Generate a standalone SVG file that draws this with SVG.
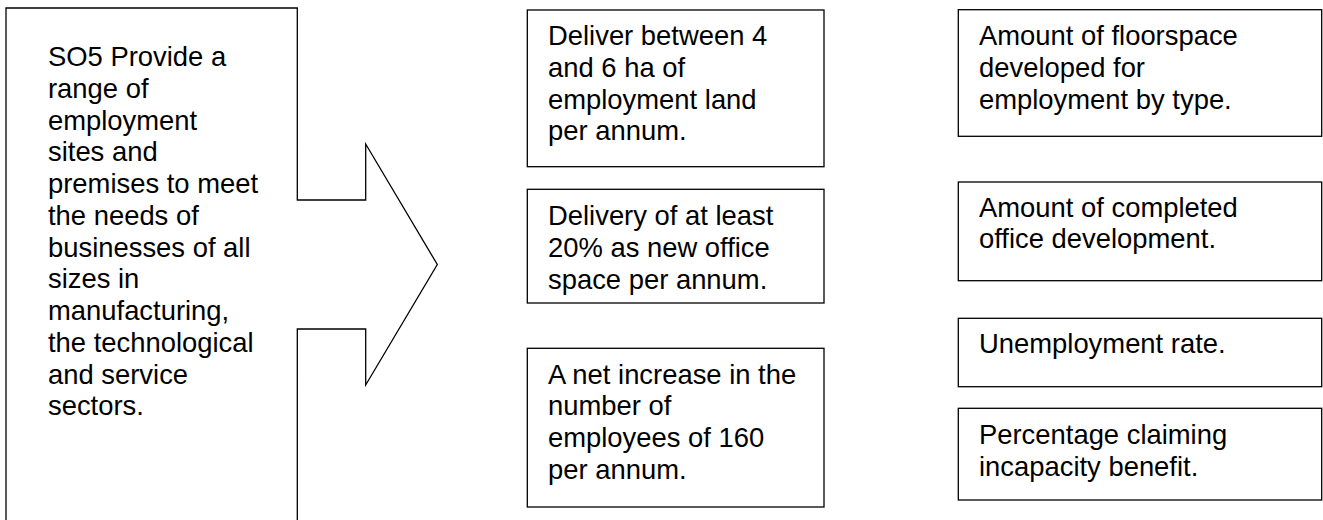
<svg xmlns="http://www.w3.org/2000/svg" width="1323" height="520" viewBox="0 0 1323 520">
  <style>
    .shape { fill: #ffffff; stroke: #000000; stroke-width: 1.3; }
    .label { font-family: "Liberation Sans", Arial, sans-serif; font-size: 27.4px; fill: #000000; }
  </style>
  <rect width="1323" height="520" fill="#ffffff"/>

  <!-- Objective box with the block arrow built into its right side -->
  <g id="objective">
    <path class="shape" d="M6,530 L6,8 L297.3,8 L297.3,200 L365.7,200 L365.7,144 L437.3,264.5 L365.7,385 L365.7,329 L297.3,329 L297.3,530"/>
    <text class="label">
      <tspan x="48" y="66">SO5 Provide a</tspan>
      <tspan x="48" y="97.8">range of</tspan>
      <tspan x="48" y="129.5">employment</tspan>
      <tspan x="48" y="161.3">sites and</tspan>
      <tspan x="48" y="193">premises to meet</tspan>
      <tspan x="48" y="224.8">the needs of</tspan>
      <tspan x="48" y="256.5">businesses of all</tspan>
      <tspan x="48" y="288.3">sizes in</tspan>
      <tspan x="48" y="320">manufacturing,</tspan>
      <tspan x="48" y="351.8">the technological</tspan>
      <tspan x="48" y="383.5">and service</tspan>
      <tspan x="48" y="415.3">sectors.</tspan>
    </text>
  </g>

  <!-- Targets -->
  <g id="target-land">
    <rect class="shape" x="527.3" y="10" width="296.7" height="156.7"/>
    <text class="label">
      <tspan x="548" y="45">Deliver between 4</tspan>
      <tspan x="548" y="76.8">and 6 ha of</tspan>
      <tspan x="548" y="108.5">employment land</tspan>
      <tspan x="548" y="140.3">per annum.</tspan>
    </text>
  </g>

  <g id="target-office">
    <rect class="shape" x="527.3" y="189.3" width="296.7" height="113.7"/>
    <text class="label">
      <tspan x="548" y="225">Delivery of at least</tspan>
      <tspan x="548" y="256.8">20% as new office</tspan>
      <tspan x="548" y="288.5">space per annum.</tspan>
    </text>
  </g>

  <g id="target-employees">
    <rect class="shape" x="527.3" y="348.3" width="296.7" height="158.7"/>
    <text class="label">
      <tspan x="548" y="383.5">A net increase in the</tspan>
      <tspan x="548" y="415.3">number of</tspan>
      <tspan x="548" y="447">employees of 160</tspan>
      <tspan x="548" y="478.8">per annum.</tspan>
    </text>
  </g>

  <!-- Indicators -->
  <g id="indicator-floorspace">
    <rect class="shape" x="958.3" y="9.7" width="363.4" height="126.6"/>
    <text class="label">
      <tspan x="979" y="45">Amount of floorspace</tspan>
      <tspan x="979" y="76.8">developed for</tspan>
      <tspan x="979" y="108.5">employment by type.</tspan>
    </text>
  </g>

  <g id="indicator-office">
    <rect class="shape" x="958.3" y="182" width="363.4" height="98.7"/>
    <text class="label">
      <tspan x="979" y="216.5">Amount of completed</tspan>
      <tspan x="979" y="248.3">office development.</tspan>
    </text>
  </g>

  <g id="indicator-unemployment">
    <rect class="shape" x="958.3" y="318.3" width="363.4" height="68.4"/>
    <text class="label">
      <tspan x="979" y="353">Unemployment rate.</tspan>
    </text>
  </g>

  <g id="indicator-incapacity">
    <rect class="shape" x="958.3" y="408.3" width="363.4" height="91.7"/>
    <text class="label">
      <tspan x="979" y="444">Percentage claiming</tspan>
      <tspan x="979" y="475.8">incapacity benefit.</tspan>
    </text>
  </g>

  <g id="connectors"/>
</svg>
